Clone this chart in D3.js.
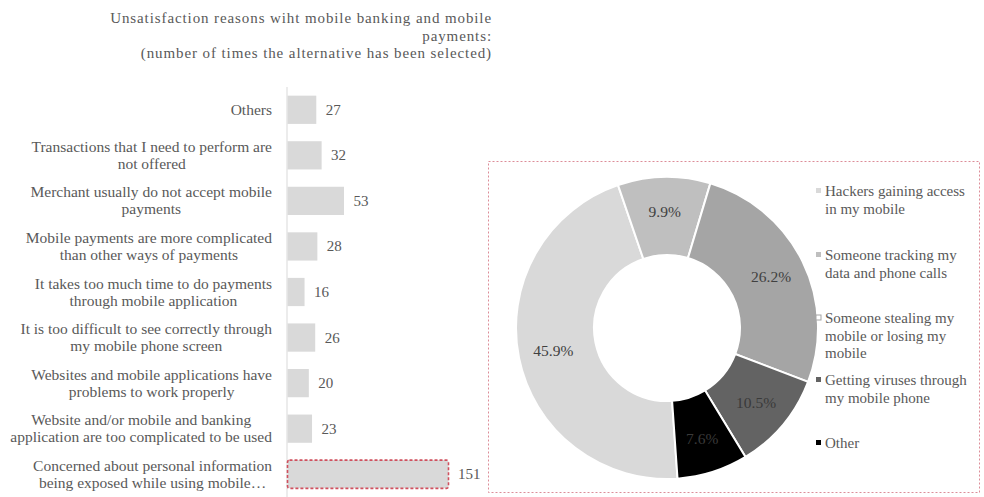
<!DOCTYPE html>
<html>
<head>
<meta charset="utf-8">
<script src="https://cdn.jsdelivr.net/npm/d3@7"></script>
<style>
  html, body { margin: 0; padding: 0; background: #fff; }
  svg text { font-family: 'Liberation Serif', 'Times New Roman', 'DejaVu Serif', serif; }
</style>
</head>
<body>
<svg id="chart" width="984" height="497"></svg>
<script>
// ---------- DATA ----------
const titleLines = [
  "Unsatisfaction reasons wiht mobile banking and mobile",
  "payments:",
  "(number of times the alternative  has been selected)"
];
const barCategories = [
  "Others",
  "Transactions that I need to perform are\nnot offered",
  "Merchant usually do not accept mobile\npayments",
  "Mobile payments are more complicated\nthan other ways of payments",
  "It takes too much time to do payments\nthrough mobile application",
  "It is too difficult to see correctly through\nmy mobile phone screen",
  "Websites and mobile applications have\nproblems to work properly",
  "Website and/or mobile and banking\napplication are too complicated to be used",
  "Concerned about personal information\nbeing exposed while using mobile…"
];
const barValues = [27, 32, 53, 28, 16, 26, 20, 23, 151];
const highlightedBar = 8;

const donutCategories = [
  "Hackers gaining access\nin my mobile",
  "Someone tracking my\ndata and phone calls",
  "Someone stealing my\nmobile or losing my\nmobile",
  "Getting viruses through\nmy mobile phone",
  "Other"
];
const donutValues = [45.9, 9.9, 26.2, 10.5, 7.6];
const donutLabels = ["45.9%", "9.9%", "26.2%", "10.5%", "7.6%"];
const donutColors = ["#d9d9d9", "#bfbfbf", "#a5a5a5", "#636363", "#000000"];
const legendMarkerFill = ["#d9d9d9", "#bfbfbf", "#ffffff", "#636363", "#000000"];

// ---------- DRAW ----------
const FONT = "'Liberation Serif', 'Times New Roman', 'DejaVu Serif', serif";
const svg = d3.select("#chart").attr("font-family", FONT);
const textColor = "#595959";

// Title
svg.append("text")
  .attr("text-anchor", "end")
  .attr("font-family", FONT)
  .attr("font-size", 15)
  .attr("letter-spacing", 0.9)
  .attr("fill", textColor)
  .selectAll("tspan")
  .data(titleLines)
  .join("tspan")
  .attr("x", 492)
  .attr("y", (d, i) => 23 + i * 17.5)
  .text(d => d);

// Bar chart
const x = d3.scaleLinear().domain([0, d3.max(barValues)]).range([287, 448]);
const y = d3.scaleBand().domain(barCategories)
  .range([87, 497]).paddingInner(0.38).paddingOuter(0.19);

svg.append("line")
  .attr("x1", x(0)).attr("x2", x(0))
  .attr("y1", 87).attr("y2", 497)
  .attr("stroke", "#d9d9d9").attr("stroke-width", 1);

svg.append("g").selectAll("rect")
  .data(barCategories)
  .join("rect")
  .attr("x", x(0) + 0.5)
  .attr("y", d => y(d))
  .attr("width", (d, i) => x(barValues[i]) - x(0))
  .attr("height", y.bandwidth())
  .attr("fill", "#d9d9d9")
  .attr("stroke", (d, i) => i === highlightedBar ? "#d0505e" : "none")
  .attr("stroke-width", 1.6)
  .attr("stroke-dasharray", "3,2")
  .attr("rx", (d, i) => i === highlightedBar ? 2 : 0);

svg.append("g").selectAll("text")
  .data(barCategories)
  .join("text")
  .attr("font-family", FONT)
  .attr("x", (d, i) => x(barValues[i]) + 10)
  .attr("y", d => y(d) + y.bandwidth() / 2 + 5)
  .attr("font-size", 15)
  .attr("fill", textColor)
  .text((d, i) => barValues[i]);

const catG = svg.append("g").selectAll("text")
  .data(barCategories)
  .join("text")
  .attr("font-family", FONT)
  .attr("text-anchor", "middle")
  .attr("font-size", 15.5)
  .attr("fill", textColor);
catG.each(function(d) {
  const lines = d.split("\n");
  const cy = y(d) + y.bandwidth() / 2;
  const lh = 17;
  const t = d3.select(this);
  lines.forEach((ln, i) => {
    t.append("tspan")
      .attr("y", cy + 5 + (i - (lines.length - 1) / 2) * lh)
      .text(ln);
  });
});
catG.each(function() {
  const t = d3.select(this);
  let maxW = 0;
  t.selectAll("tspan").each(function() { maxW = Math.max(maxW, this.getComputedTextLength()); });
  t.selectAll("tspan").attr("x", 272 - maxW / 2);
});

// Donut panel frame
svg.append("rect")
  .attr("x", 488.5).attr("y", 161.5)
  .attr("width", 491).attr("height", 331)
  .attr("fill", "none")
  .attr("stroke", "#dc8d98")
  .attr("stroke-width", 1)
  .attr("stroke-dasharray", "2,2");

const cx = 667, cy = 328, rOuter = 151, rInner = 73;
const startA = 176 * Math.PI / 180;
const pie = d3.pie().sort(null).value(d => d)
  .startAngle(startA).endAngle(startA + 2 * Math.PI);
const arcs = pie(donutValues);
const arc = d3.arc().innerRadius(rInner).outerRadius(rOuter);
const labelArc = d3.arc().innerRadius(116).outerRadius(116);

const dg = svg.append("g").attr("transform", `translate(${cx},${cy})`);
dg.selectAll("path")
  .data(arcs)
  .join("path")
  .attr("d", arc)
  .attr("fill", (d, i) => donutColors[i])
  .attr("stroke", "#fff")
  .attr("stroke-width", 2);

dg.selectAll("text")
  .data(arcs)
  .join("text")
  .attr("font-family", FONT)
  .attr("transform", d => `translate(${labelArc.centroid(d)})`)
  .attr("text-anchor", "middle")
  .attr("dy", "0.35em")
  .attr("font-size", 15.5)
  .attr("fill", (d, i) => i >= 3 ? "#3a3a3a" : "#404040")
  .text((d, i) => donutLabels[i]);

// Legend
const legendTop = [193, 257, 320, 382, 445];
const lg = svg.append("g");
donutCategories.forEach((c, i) => {
  lg.append("rect")
    .attr("x", 816).attr("y", legendTop[i] - 5)
    .attr("width", 5).attr("height", 5)
    .attr("fill", legendMarkerFill[i])
    .attr("stroke", i === 2 ? "#a5a5a5" : "none")
    .attr("stroke-width", 1);
  const t = lg.append("text")
    .attr("font-family", FONT)
    .attr("font-size", 15)
    .attr("fill", textColor);
  c.split("\n").forEach((ln, j) => {
    t.append("tspan").attr("x", 825).attr("y", legendTop[i] + 3 + j * 17.5).text(ln);
  });
});
</script>
</body>
</html>
